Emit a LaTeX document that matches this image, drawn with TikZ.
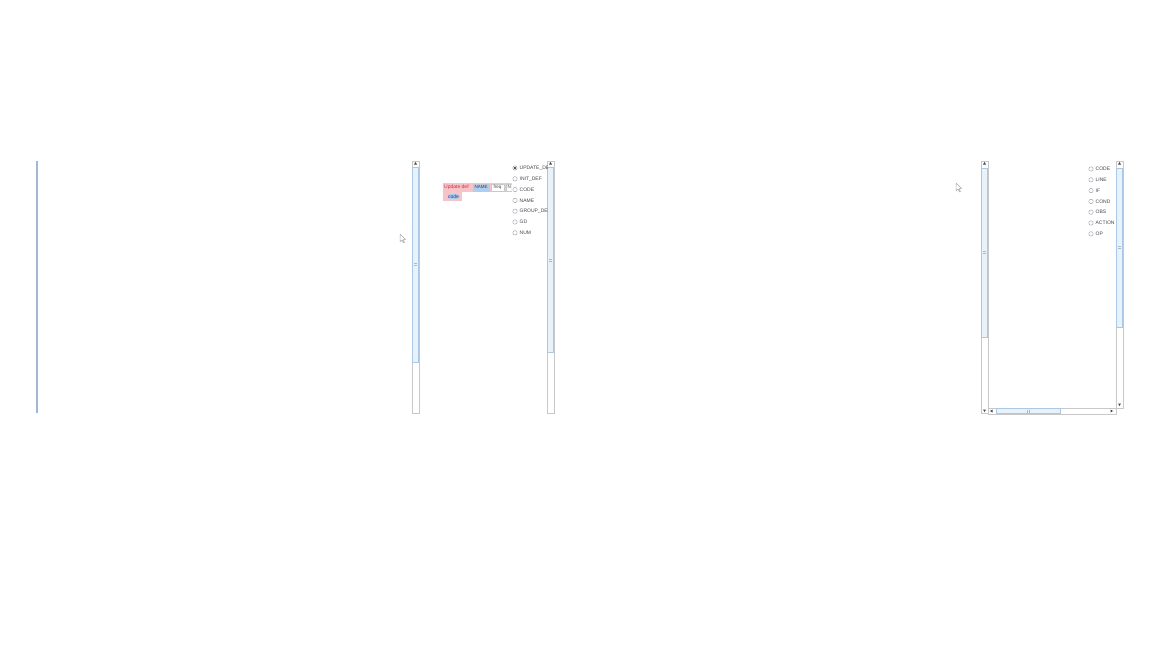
\documentclass[tikz,border=0pt]{standalone}
\usepackage{fontspec}
\setmainfont{Liberation Sans}
\usetikzlibrary{positioning}
\definecolor{trackgray}{RGB}{200,200,200}
\definecolor{thumbedge}{RGB}{170,200,230}
\definecolor{thumbfill}{RGB}{232,242,251}
\definecolor{radiogray}{RGB}{165,170,180}
\definecolor{labelgray}{RGB}{70,70,75}
\definecolor{edgeblue}{RGB}{165,182,212}
\definecolor{errpink}{RGB}{246,196,200}
\definecolor{errred}{RGB}{205,45,60}
\definecolor{namefill}{RGB}{175,205,238}
\definecolor{darkblue}{RGB}{40,60,120}
\tikzset{
    % Scroll bar styles
    track/.style={draw=trackgray, fill=white, line width=0.6pt},
    thumb/.style={draw=thumbedge, fill=thumbfill, line width=0.6pt},
    grip/.style={draw=thumbedge!80!gray, line width=0.5pt},
    tip/.style={fill=labelgray},
    % Option list styles
    radio/.style={circle, draw=radiogray, fill=white, inner sep=0pt, minimum size=4.4pt, line width=0.5pt},
    optlabel/.style={anchor=west, inner sep=0pt, font=\fontsize{5}{6}\selectfont, text=labelgray},
    % Expression editor styles
    tokenbox/.style={draw=trackgray, fill=white, inner sep=0pt, line width=0.5pt,
        text height=3.3pt, text depth=1pt, font=\fontsize{4.5}{5}\selectfont, text=labelgray},
    pointer/.style={draw=radiogray, fill=white, line width=0.5pt, line join=round}
}
\begin{document}
\begin{tikzpicture}[x=1pt, y=-1pt]
\useasboundingbox[fill=white] (0,0) rectangle (1152,648);

% Left panel edge
\draw[edgeblue, line width=1.4pt] (37,161) -- (37,413);

% Middle panel scroll bars
\draw[track] (412,161) rectangle (419,413);
\draw[thumb] (412.5,167) rectangle (418.5,362);
\draw[grip] (414,263) -- (417,263) (414,265) -- (417,265);
\fill[tip] (415.5,162) -- (414,164.5) -- (417,164.5) -- cycle;
\draw[track] (547,161) rectangle (554,413);
\draw[thumb] (547.5,167) rectangle (553.5,352);
\draw[grip] (549,259) -- (552,259) (549,261) -- (552,261);
\fill[tip] (550.5,162) -- (549,164.5) -- (552,164.5) -- cycle;

% Middle option list
\begin{scope}
\clip (505,160) rectangle (547,240);
\foreach \name [count=\i from 0] in {UPDATE\_DEF, INIT\_DEF, CODE, NAME, GROUP\_DEF, GD, NUM} {
    \node[radio] (opt\i) at (515,168+10.8*\i) {};
    \node[optlabel, right=2pt of opt\i] (optlabel\i) {\name};
}
\fill[labelgray] (opt0) circle (1.3pt);
\end{scope}

% Expression editor
\begin{scope}
\clip (440,180) rectangle (511.5,203);
\fill[errpink] (443,183) rectangle (512,192);
\fill[errpink] (443,192) rectangle (462,201);
\node[anchor=west, inner sep=0pt, font=\fontsize{5}{6}\selectfont, text=errred] (upd) at (444,187.5) {Update def};
\node[tokenbox, fill=namefill, text=darkblue, minimum width=16pt, minimum height=7pt] (tokname) at (481,187.5) {NAME};
\node[tokenbox, minimum width=13pt, minimum height=7pt] (tokfreq) at (497.5,187.5) {freq};
\node[tokenbox, minimum width=6pt, minimum height=7pt, anchor=west] (tokn) at (506,187.5) {N};
\node[fill=namefill, rounded corners=3pt, inner sep=0.6pt, font=\fontsize{5}{6}\selectfont, text=darkblue] (tokcode) at (453.5,196.5) {code};
\end{scope}

% Right panel scroll bars
\draw[track] (981,161) rectangle (988,413);
\draw[thumb] (981.5,168) rectangle (987.5,337);
\draw[grip] (983,251) -- (986,251) (983,253) -- (986,253);
\fill[tip] (984.5,162) -- (983,164.5) -- (986,164.5) -- cycle;
\fill[tip] (984.5,412) -- (983,409.5) -- (986,409.5) -- cycle;
\draw[track] (1116,161) rectangle (1123,408);
\draw[thumb] (1116.5,168) rectangle (1122.5,327);
\draw[grip] (1118,246) -- (1121,246) (1118,248) -- (1121,248);
\fill[tip] (1119.5,162) -- (1118,164.5) -- (1121,164.5) -- cycle;
\fill[tip] (1119.5,406) -- (1118,403.5) -- (1121,403.5) -- cycle;
\draw[track] (988,408) rectangle (1116,414);
\draw[thumb] (996,408.5) rectangle (1060,413.5);
\draw[grip] (1027,409.5) -- (1027,412.5) (1029,409.5) -- (1029,412.5);
\fill[tip] (990,411) -- (992.5,409.5) -- (992.5,412.5) -- cycle;
\fill[tip] (1113,411) -- (1110.5,409.5) -- (1110.5,412.5) -- cycle;

% Right option list
\begin{scope}
\clip (1080,160) rectangle (1116,240);
\foreach \name [count=\i from 0] in {CODE, LINE, IF, COND, OBS, ACTION, OP} {
    \node[radio] (cond\i) at (1091,169+10.8*\i) {};
    \node[optlabel, right=2pt of cond\i] (condlabel\i) {\name};
}
\end{scope}

% Mouse pointers
\draw[pointer] (400,234) -- (400,242) -- (402,240) -- (403.5,243) -- (404.5,242.5) -- (403,239.5) -- (405.5,239.5) -- cycle;
\draw[pointer] (956,183) -- (956,191) -- (958,189) -- (959.5,192) -- (960.5,191.5) -- (959,188.5) -- (961.5,188.5) -- cycle;

\end{tikzpicture}
\end{document}
